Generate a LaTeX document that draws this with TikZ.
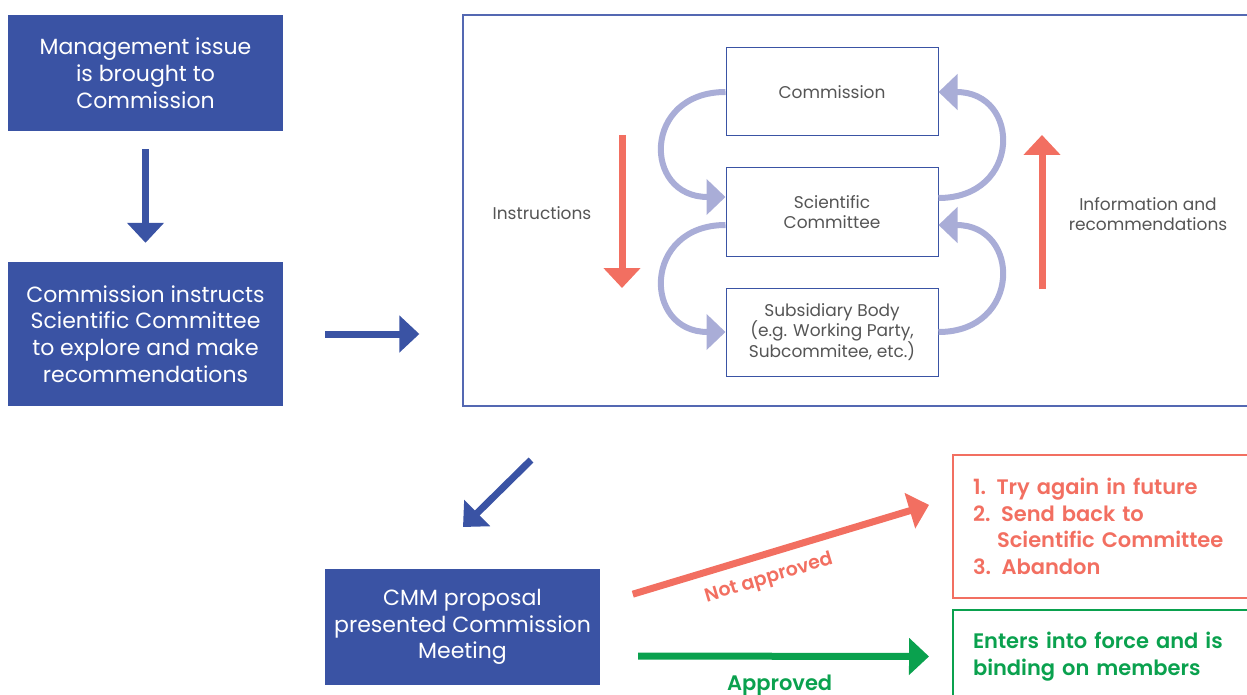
\documentclass[tikz,border=0pt]{standalone}
\usepackage{fontspec}
\setmainfont{Poppins}[BoldFont={* SemiBold}]
\usetikzlibrary{arrows.meta,positioning}
\definecolor{cmmblue}{HTML}{3A53A4}
\definecolor{framebl}{HTML}{5468B2}
\definecolor{loopcol}{HTML}{A9ADD7}
\definecolor{cmmred}{HTML}{F26F61}
\definecolor{cmmgreen}{HTML}{0AA14E}
\definecolor{txtgrey}{HTML}{555555}

\begin{document}
\begin{tikzpicture}[x=1pt, y=-1pt,
  bluebox/.style={rectangle, fill=cmmblue, text=white, minimum width=275pt, minimum height=116pt, align=center, font=\fontsize{22}{26.8}\selectfont},
  bodybox/.style={rectangle, draw=cmmblue, line width=1pt, minimum width=212pt, minimum height=88pt, align=center, text=txtgrey, font=\fontsize{17}{20.3}\selectfont},
  sidetext/.style={align=center, text=txtgrey, font=\fontsize{17}{20.3}\selectfont},
  outbox/.style={rectangle, line width=2pt, minimum width=307pt, text width=267pt, inner xsep=20pt, align=left, font=\bfseries\fontsize{21}{26.5}\selectfont},
  bigarrow/.style={cmmblue, line width=7pt, -{Triangle[width=36pt,length=20pt]}},
  redarrow/.style={cmmred, line width=7pt, -{Triangle[width=36pt,length=20pt]}},
  greenarrow/.style={cmmgreen, line width=7pt, -{Triangle[width=36pt,length=20pt]}},
  looparrow/.style={loopcol, line width=6pt, -{Triangle[width=35pt,length=19pt]}}]
  \useasboundingbox (0,0) rectangle (1247,695);

  \node[bluebox] (issue) at (145.5,73) {Management issue\\is brought to\\Commission};
  \node[bluebox, minimum height=144pt] (instruct) at (145.5,334) {Commission instructs\\Scientific Committee\\to explore and make\\recommendations};

  \node[rectangle, draw=framebl, line width=1.3pt, minimum width=797pt, minimum height=391pt] (frame) at (861.5,210.5) {};

  \node[bodybox] (comm) at (832,92) {Commission};
  \node[bodybox] (sci) at (832,212) {Scientific\\Committee};
  \node[bodybox] (sub) at (832,332) {Subsidiary Body\\(e.g. Working Party,\\Subcommitee, etc.)};

  \node[sidetext] (instrtext) at (542,213) {Instructions};
  \node[sidetext] (infotext) at (1148,214) {Information and\\recommendations};

  \coordinate (instrtop) at (622,135);
  \coordinate (instrbot) at (622,288);
  \coordinate (infobot) at (1042,289);
  \coordinate (infotop) at (1042,135);

  \node[bluebox] (cmm) at (462.5,627) {CMM proposal\\presented Commission\\Meeting};

  \node[outbox, draw=cmmred, text=cmmred, minimum height=143pt] (notbox) at (1106.5,526.5) {1. Try again in future\\2. Send back to\\\hspace*{24pt}Scientific Committee\\3. Abandon};
  \node[outbox, draw=cmmgreen, text=cmmgreen, minimum height=93pt] (appbox) at (1106.5,656.5) {Enters into force and is\\binding on members};

  \coordinate (diagtop) at (531,460);
  \coordinate (diagend) at (463,527);

  \draw[bigarrow, shorten <=18pt, shorten >=19pt] (issue) -- (instruct);
  \draw[bigarrow, shorten <=42pt, shorten >=43pt] (instruct.east |- 0,334) -- (frame.west |- 0,334);
  \draw[bigarrow] (diagtop) -- (diagend);

  \draw[looparrow] (comm.west) .. controls +(-83,0) and +(-83,0) .. ([yshift=15pt]sci.west);
  \draw[looparrow] ([yshift=-13pt]sci.west) .. controls +(-83,0) and +(-83,0) .. (sub.west);
  \draw[looparrow] ([yshift=14pt]sci.east) .. controls +(83,0) and +(83,0) .. (comm.east);
  \draw[looparrow] (sub.east) .. controls +(83,0) and +(83,0) .. ([yshift=-13pt]sci.east);

  \draw[redarrow] (instrtop) -- (instrbot);
  \draw[redarrow] (infobot) -- (infotop);

  \draw[redarrow, shorten <=34pt, shorten >=24pt] ([yshift=23pt]cmm.east) -- ([yshift=28.5pt]notbox.west)
    node[sloped, pos=0.46, below=8pt, text=cmmred, font=\bfseries\fontsize{19}{21}\selectfont] {Not approved};
  \draw[greenarrow, shorten <=38pt, shorten >=23pt] ([yshift=-29pt]cmm.east) -- (appbox.west)
    node[pos=0.51, below=12pt, text=cmmgreen, font=\bfseries\fontsize{21}{23}\selectfont] {Approved};
\end{tikzpicture}
\end{document}
